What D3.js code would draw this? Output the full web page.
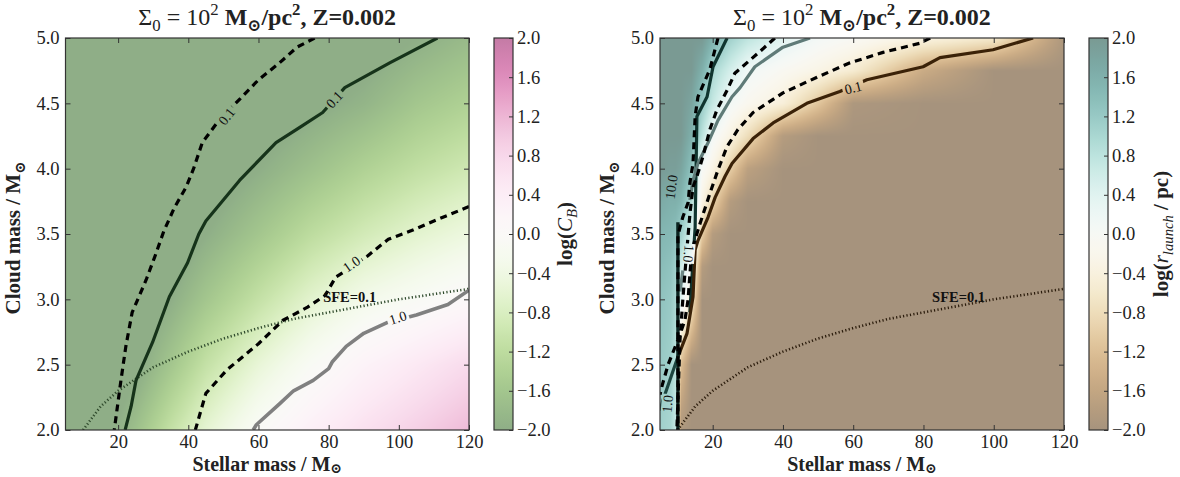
<!DOCTYPE html>
<html>
<head>
<meta charset="utf-8">
<script src="https://cdn.jsdelivr.net/npm/d3@7"></script>
<style>
body { margin: 0; background: #fff; }
svg { display: block; }
text { font-family: "Liberation Serif", "DejaVu Serif", serif; fill: #222; }
</style>
</head>
<body>
<svg id="chart" width="1180" height="477"></svg>
<script>
// ---- data ----
// axis ticks
var xTicks = [20, 40, 60, 80, 100, 120];
var yTicks = [2.0, 2.5, 3.0, 3.5, 4.0, 4.5, 5.0];
var cbTicks = [-2.0, -1.6, -1.2, -0.8, -0.4, 0.0, 0.4, 0.8, 1.2, 1.6, 2.0];

// left panel: log(C_B) grid (rows = cloud mass, cols = stellar mass)
var cbStellar = [5, 15, 25, 35, 45, 60, 75, 90, 105, 120];
var cbCloud = [2.0, 2.5, 3.0, 3.5, 4.0, 4.5, 5.0];
var cbValues = [
  [-2.2, -2.2, -1.7, -1.1, -0.6, -0.05, 0.35, 0.65, 0.9, 1.15],
  [-2.3, -2.3, -2.1, -1.6, -1.1, -0.55, -0.1, 0.25, 0.5, 0.75],
  [-2.4, -2.4, -2.3, -2.0, -1.6, -1.1, -0.65, -0.3, -0.1, 0.1],
  [-2.5, -2.5, -2.4, -2.3, -2.0, -1.6, -1.2, -0.9, -0.65, -0.45],
  [-2.5, -2.5, -2.5, -2.4, -2.3, -2.0, -1.7, -1.4, -1.15, -0.95],
  [-2.5, -2.5, -2.5, -2.5, -2.4, -2.3, -2.1, -1.9, -1.6, -1.4],
  [-2.5, -2.5, -2.5, -2.5, -2.5, -2.5, -2.4, -2.2, -2.0, -1.8]
];

// right panel: log(r_launch/pc) grid
var rlStellar = [5, 8, 9.5, 11, 14, 17, 20, 25, 30, 40, 50, 60, 80, 100, 120];
var rlCloud = [2.0, 2.5, 3.0, 3.25, 3.5, 3.75, 4.0, 4.25, 4.5, 4.75, 5.0];
var rlValues = [
  [1.1, 1.0, 0.7, -1.9, -2, -2, -2, -2, -2, -2, -2, -2, -2, -2, -2],
  [1.2, 1.1, 0.8, -1.2, -2, -2, -2, -2, -2, -2, -2, -2, -2, -2, -2],
  [1.3, 1.2, 1.0, 0.4, -0.6, -2, -2, -2, -2, -2, -2, -2, -2, -2, -2],
  [1.4, 1.3, 1.1, 0.6, 0.0, -1.8, -2, -2, -2, -2, -2, -2, -2, -2, -2],
  [1.5, 1.45, 1.35, 1.1, 0.5, -1.0, -1.8, -2, -2, -2, -2, -2, -2, -2, -2],
  [1.7, 1.6, 1.6, 1.5, 0.9, -0.3, -0.9, -1.8, -2, -2, -2, -2, -2, -2, -2],
  [2, 1.9, 1.9, 1.8, 1.3, 0.0, -0.3, -1.0, -1.7, -2, -2, -2, -2, -2, -2],
  [2, 2, 2, 2, 1.6, 0.8, 0.1, -0.35, -0.8, -1.8, -2, -2, -2, -2, -2],
  [2, 2, 2, 2, 1.8, 1.2, 0.7, 0.1, -0.15, -0.45, -1.1, -1.9, -2, -2, -2],
  [2, 2, 2, 2, 2, 1.6, 1.0, 0.55, 0.15, -0.1, -0.3, -0.55, -1.5, -2, -2],
  [2, 2, 2, 2, 2, 2, 1.6, 1.1, 0.8, 0.4, 0.1, -0.05, -0.35, -0.6, -1.9]
];

// SFE = 0.1 line [stellar mass, log cloud mass]
var sfeLine = [[10, 2.0], [15, 2.18], [20, 2.3], [30, 2.48], [40, 2.6], [50, 2.7], [60, 2.78],
  [70, 2.85], [80, 2.9], [90, 2.95], [100, 3.0], [110, 3.04], [120, 3.08]];

// left panel contours
var cbDash01 = [[76, 5.0], [71, 4.93], [66, 4.81], [60, 4.68], [54.6, 4.53], [49, 4.38], [44, 4.2], [41.5, 4.0],
  [39.4, 3.86], [36, 3.7], [33, 3.52], [30.5, 3.33], [28, 3.15], [24, 2.9], [22.2, 2.64], [20.8, 2.38], [18.9, 2.0]];
var cbSolid01 = [[111, 5.0], [97.4, 4.81], [84.6, 4.62], [78.3, 4.43], [72, 4.32], [65, 4.2], [54.6, 3.91], [45, 3.6],
  [43, 3.5], [39.8, 3.28], [34.6, 3.02], [29.8, 2.67], [25.1, 2.38], [23.7, 2.18], [22, 2.0]];
var cbDash10 = [[120, 3.71], [110, 3.6], [104, 3.53], [97, 3.46], [91, 3.33], [85, 3.22], [82, 3.17], [79, 3.03],
  [74, 2.94], [67, 2.84], [60, 2.66], [51, 2.46], [45, 2.28], [42, 2.0]];
var cbGray10 = [[120, 3.07], [114, 2.96], [105, 2.88], [96.5, 2.82], [90, 2.74], [85, 2.64], [81, 2.52], [80, 2.47],
  [75.6, 2.38], [70, 2.3], [66, 2.2], [59.4, 2.04], [58.5, 2.0]];

// right panel contours
var rlDashA = [[21.5, 5.0], [19.2, 4.76], [15.8, 4.55], [15.0, 4.40], [14.4, 4.04], [13.5, 3.89], [13.0, 3.74],
  [11.5, 3.63], [10.1, 3.49], [10.1, 2.0]];
var rlDashB = [[37.7, 5.0], [34.0, 4.91], [26.3, 4.73], [24.1, 4.60], [21.2, 4.45], [19.2, 4.30], [17.2, 4.09],
  [15.5, 3.94], [14.4, 3.86], [13.5, 3.65], [12.4, 3.30], [11.5, 3.0], [10.7, 2.69], [9.8, 2.0]];
var rlDashC = [[81.9, 5.0], [79.0, 4.96], [68.5, 4.89], [59.1, 4.81], [49.7, 4.70], [40.0, 4.58], [31.5, 4.43],
  [27.2, 4.30], [24.1, 4.17], [21.5, 3.99], [19.2, 3.81], [16.4, 3.58], [14.1, 3.38], [13.5, 3.19], [13.0, 3.0],
  [12.1, 2.84], [10.1, 2.69], [7.3, 2.5], [5.6, 2.34], [5, 2.27]];
var rlSolid10 = [[24.1, 5.0], [20.1, 4.78], [18.4, 4.55], [15.5, 4.40], [15.0, 3.55], [14.4, 3.30], [13.5, 2.9]];
var rlGray1 = [[47.7, 5.0], [40.0, 4.93], [32.0, 4.78], [27.8, 4.62], [25.5, 4.55], [21.5, 4.37], [18.7, 4.20],
  [15.8, 4.04], [14.4, 3.91], [13.5, 3.76]];
var rlGrayStub = [[11.5, 3.22], [10.7, 3.06]];
var rlBrown01 = [[111.2, 5.0], [99.8, 4.91], [84.7, 4.85], [79.9, 4.78], [63.9, 4.68], [56.2, 4.59], [46.8, 4.50],
  [37.2, 4.35], [31.5, 4.23], [25.5, 4.04], [23.5, 3.94], [20.7, 3.78], [18.7, 3.63], [15.8, 3.45], [15.0, 3.38],
  [14.4, 3.02], [12.7, 2.74], [10.1, 2.56]];
var rlVert = [[10.1, 3.59], [10.1, 2.0]];
var rlTealLow = [[10.1, 2.56], [7.8, 2.38], [5.85, 2.23], [5, 2.15]];

// ---- drawing ----
var svg = d3.select("#chart");
svg.append("rect").attr("width", 1180).attr("height", 477).attr("fill", "#fff");
var ALPHA = 0.52;

function rich(t, parts, size, subOff) {
  var off = 0;
  parts.forEach(function(p) {
    var target = p.sub ? size * (subOff || 0.25) : (p.sup ? -size * 0.4 : 0);
    t.append("tspan").text(p.t)
      .attr("dy", target - off)
      .attr("font-size", (p.sub || p.sup) ? size * 0.7 : size)
      .attr("font-weight", p.b ? "bold" : "normal")
      .attr("font-style", p.i ? "italic" : "normal");
    off = target;
  });
}

function fieldFn(xs, ys, rows) {
  return function(xv, yv) {
    var i = Math.max(0, Math.min(xs.length - 2, d3.bisectRight(xs, xv) - 1));
    var j = Math.max(0, Math.min(ys.length - 2, d3.bisectRight(ys, yv) - 1));
    var tx = Math.max(0, Math.min(1, (xv - xs[i]) / (xs[i + 1] - xs[i])));
    var ty = Math.max(0, Math.min(1, (yv - ys[j]) / (ys[j + 1] - ys[j])));
    var a = rows[j][i] * (1 - tx) + rows[j][i + 1] * tx;
    var b = rows[j + 1][i] * (1 - tx) + rows[j + 1][i + 1] * tx;
    return a * (1 - ty) + b * ty;
  };
}

function blended(c) {
  var r = d3.rgb(c);
  return [255 - ALPHA * (255 - r.r), 255 - ALPHA * (255 - r.g), 255 - ALPHA * (255 - r.b)];
}

var titleParts = [
  {t: "Σ"}, {t: "0", sub: true}, {t: " = 10"}, {t: "2", sup: true},
  {t: " M", b: true}, {t: "⊙", sub: true, b: true}, {t: "/pc", b: true}, {t: "2", sup: true, b: true},
  {t: ", Z=0.002", b: true}
];

function panel(o) {
  var x = d3.scaleLinear().domain([5, 120]).range([o.x0, o.x1]);
  var y = d3.scaleLinear().domain([2, 5]).range([430, 38]);
  var cval = d3.scaleLinear().domain([-2, 2]).range([0, 1]).clamp(true);
  var g = svg.append("g");
  var field = fieldFn(o.xs, o.ys, o.rows);

  // heat map
  var w = Math.round(o.x1 - o.x0), h = 392;
  var canvas = document.createElement("canvas");
  canvas.width = w; canvas.height = h;
  var ctx = canvas.getContext("2d");
  var img = ctx.createImageData(w, h);
  for (var py = 0; py < h; py++) {
    var lv = y.invert(38 + py + 0.5);
    for (var px = 0; px < w; px++) {
      var v = field(x.invert(o.x0 + px + 0.5), lv);
      var c = blended(o.cmap(o.flip ? 1 - cval(v) : cval(v)));
      var k = (py * w + px) * 4;
      img.data[k] = c[0]; img.data[k + 1] = c[1]; img.data[k + 2] = c[2]; img.data[k + 3] = 255;
    }
  }
  ctx.putImageData(img, 0, 0);
  g.append("image").attr("x", o.x0).attr("y", 38).attr("width", w).attr("height", h)
    .attr("href", canvas.toDataURL());

  // clip + label gaps
  var defs = svg.append("defs");
  defs.append("clipPath").attr("id", "clip" + o.id)
    .append("rect").attr("x", o.x0).attr("y", 38).attr("width", o.x1 - o.x0).attr("height", 392);
  var mask = defs.append("mask").attr("id", "mask" + o.id).attr("maskUnits", "userSpaceOnUse")
    .attr("x", 0).attr("y", 0).attr("width", 1180).attr("height", 477);
  mask.append("rect").attr("width", 1180).attr("height", 477).attr("fill", "#fff");
  o.labels.forEach(function(l) {
    mask.append("rect").attr("x", -l.w / 2).attr("y", -6).attr("width", l.w).attr("height", 12)
      .attr("fill", "#000")
      .attr("transform", "translate(" + x(l.at[0]) + "," + y(l.at[1]) + ") rotate(" + l.rot + ")");
  });

  var line = d3.line().x(function(d) { return x(d[0]); }).y(function(d) { return y(d[1]); });
  var lg = g.append("g").attr("clip-path", "url(#clip" + o.id + ")")
    .append("g").attr("mask", "url(#mask" + o.id + ")");
  o.lines.forEach(function(l) {
    lg.append("path").datum(l.pts).attr("d", line).attr("fill", "none")
      .attr("stroke", l.color).attr("stroke-width", l.width)
      .attr("stroke-dasharray", l.dash || null)
      .attr("stroke-linejoin", "round");
  });
  o.labels.forEach(function(l) {
    if (!l.text) return;
    g.append("text").text(l.text)
      .attr("font-size", l.size || 14).attr("text-anchor", "middle").attr("dy", "0.35em")
      .style("fill", l.color || "#111")
      .attr("transform", "translate(" + x(l.at[0]) + "," + y(l.at[1]) + ") rotate(" + l.rot + ")");
  });
  g.append("text").text("SFE=0.1").attr("x", x(o.sfeAt[0])).attr("y", y(o.sfeAt[1]))
    .attr("font-size", 14.5).attr("font-weight", "bold").attr("text-anchor", "middle").style("fill", "#111");

  // frame and ticks (inward, on all four sides)
  g.append("rect").attr("x", o.x0).attr("y", 38).attr("width", o.x1 - o.x0).attr("height", 392)
    .attr("fill", "none").attr("stroke", "#333").attr("stroke-width", 1.2);
  var ax = [
    g.append("g").attr("transform", "translate(0,430)").call(d3.axisBottom(x).tickValues(xTicks).tickSize(-5).tickPadding(5).tickFormat(d3.format("d"))),
    g.append("g").attr("transform", "translate(0,38)").call(d3.axisTop(x).tickValues(xTicks).tickSize(-5).tickFormat("")),
    g.append("g").attr("transform", "translate(" + o.x0 + ",0)").call(d3.axisLeft(y).tickValues(yTicks).tickSize(-5).tickPadding(6).tickFormat(d3.format(".1f"))),
    g.append("g").attr("transform", "translate(" + o.x1 + ",0)").call(d3.axisRight(y).tickValues(yTicks).tickSize(-5).tickFormat(""))
  ];
  ax.forEach(function(a) {
    a.select(".domain").remove();
    a.selectAll("line").attr("stroke", "#333");
    a.selectAll("text").attr("font-size", 18.5).attr("font-family", null).style("fill", "#222");
  });

  // titles and axis labels
  rich(g.append("text").attr("x", (o.x0 + o.x1) / 2).attr("y", 25).attr("text-anchor", "middle"), titleParts, 24);
  rich(g.append("text").attr("x", (o.x0 + o.x1) / 2).attr("y", 471).attr("text-anchor", "middle"),
    [{t: "Stellar mass / M", b: true}, {t: "⊙", sub: true, b: true}], 20, 0.12);
  rich(g.append("text").attr("text-anchor", "middle")
    .attr("transform", "translate(" + (o.x0 - 46) + ",238) rotate(-90)"),
    [{t: "Cloud mass / M", b: true}, {t: "⊙", sub: true, b: true}], 21);

  // colour bar
  var cy = d3.scaleLinear().domain([-2, 2]).range([430, 38]);
  var gid = "grad" + o.id;
  var grad = defs.append("linearGradient").attr("id", gid).attr("x1", 0).attr("y1", 1).attr("x2", 0).attr("y2", 0);
  d3.range(0, 1.0001, 0.02).forEach(function(t) {
    var c = blended(o.cmap(o.flip ? 1 - t : t));
    grad.append("stop").attr("offset", t).attr("stop-color", d3.rgb(c[0], c[1], c[2]).formatHex());
  });
  g.append("rect").attr("x", o.cb0).attr("y", 38).attr("width", 19).attr("height", 392)
    .attr("fill", "url(#" + gid + ")").attr("stroke", "#333").attr("stroke-width", 1.2);
  var cax = g.append("g").attr("transform", "translate(" + (o.cb0 + 19) + ",0)")
    .call(d3.axisRight(cy).tickValues(cbTicks).tickSize(-4).tickPadding(4)
      .tickFormat(function(d) { return d3.format(".1f")(d).replace("-", "−"); }));
  cax.select(".domain").remove();
  cax.selectAll("line").attr("stroke", "#333");
  cax.selectAll("text").attr("font-size", 18.5).attr("font-family", null).style("fill", "#222");
  rich(g.append("text").attr("text-anchor", "middle")
    .attr("transform", "translate(" + o.cbLabelX + ",234) rotate(-90)"), o.cbLabel, 21);
}

panel({
  id: "L", x0: 65.5, x1: 469, cb0: 494, cbLabelX: 572,
  xs: cbStellar, ys: cbCloud, rows: cbValues,
  cmap: d3.interpolatePiYG, flip: true,
  sfeAt: [86, 2.98],
  cbLabel: [{t: "log(", b: true}, {t: "C", i: true}, {t: "B", sub: true, i: true}, {t: ")", b: true}],
  lines: [
    {pts: sfeLine, color: "#2f4a2c", width: 2.6, dash: "1.2,2.3"},
    {pts: cbDash01, color: "#000", width: 3.2, dash: "7,5"},
    {pts: cbSolid01, color: "#16331a", width: 3.2},
    {pts: cbDash10, color: "#000", width: 3.2, dash: "7,5"},
    {pts: cbGray10, color: "#808080", width: 3.6}
  ],
  labels: [
    {at: [50.9, 4.40], rot: -52, w: 22, text: "0.1"},
    {at: [81.6, 4.53], rot: -47, w: 22, text: "0.1"},
    {at: [86.5, 3.27], rot: -35, w: 22, text: "1.0"},
    {at: [99.7, 2.86], rot: -18, w: 22, text: "1.0"}
  ]
});

panel({
  id: "R", x0: 660, x1: 1064, cb0: 1089, cbLabelX: 1168,
  xs: rlStellar, ys: rlCloud, rows: rlValues,
  cmap: d3.interpolateBrBG, flip: false,
  sfeAt: [90, 2.98],
  cbLabel: [{t: "log(", b: true}, {t: "r", i: true}, {t: "launch", sub: true, i: true}, {t: " / pc)", b: true}],
  lines: [
    {pts: sfeLine, color: "#2b1c0c", width: 2.6, dash: "1.2,2.3"},
    {pts: rlSolid10, color: "#10352f", width: 3.2},
    {pts: rlGray1, color: "#5f7b78", width: 3.2},
    {pts: rlGrayStub, color: "#6d8785", width: 3.2},
    {pts: rlBrown01, color: "#3b2208", width: 3.2},
    {pts: rlTealLow, color: "#1d4640", width: 3.2},
    {pts: rlVert, color: "#0b2420", width: 3.4},
    {pts: rlDashA, color: "#000", width: 3.2, dash: "7,5"},
    {pts: rlDashB, color: "#000", width: 3.2, dash: "7,5"},
    {pts: rlDashC, color: "#000", width: 3.2, dash: "7,5"}
  ],
  labels: [
    {at: [60, 4.62], rot: -14, w: 22, text: "0.1"},
    {at: [8.2, 3.86], rot: -82, w: 26, text: "10.0"},
    {at: [13.2, 3.35], rot: 95, w: 20, text: "1.0"},
    {at: [7.1, 2.2], rot: -85, w: 20, text: "1.0"}
  ]
});
</script>
</body>
</html>
